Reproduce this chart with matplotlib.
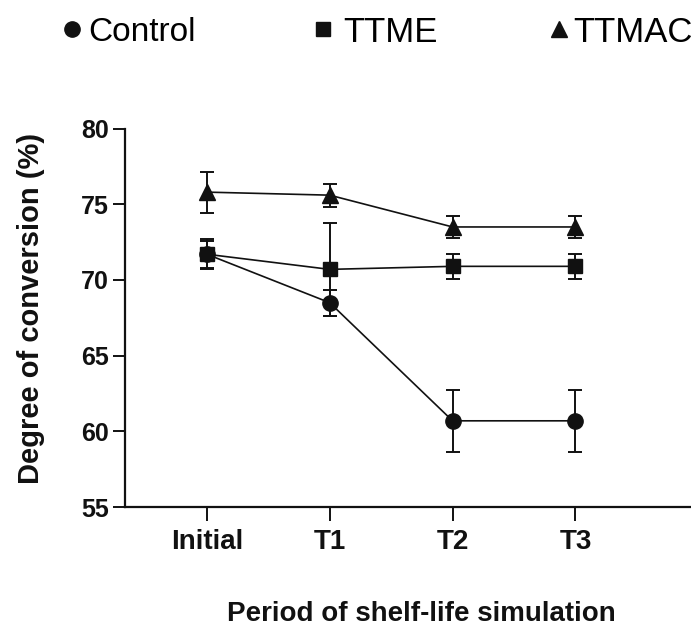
import matplotlib
matplotlib.use("Agg")
import matplotlib.pyplot as plt
from matplotlib.lines import Line2D

periods = ["Initial", "T1", "T2", "T3"]

control = [71.7, 68.5, 60.7, 60.7]
control_err = [0.9, 0.85, 2.05, 2.05]

ttme = [71.7, 70.7, 70.9, 70.9]
ttme_err = [1.0, 3.05, 0.83, 0.83]

ttmac = [75.8, 75.6, 73.5, 73.5]
ttmac_err = [1.35, 0.75, 0.75, 0.75]

INK = "#111111"

plt.rcParams["font.family"] = ["Liberation Sans", "DejaVu Sans"]

fig = plt.figure(figsize=(6.91, 6.30), dpi=100)
ax = fig.add_axes([0.181, 0.195, 0.819, 0.601])

x = list(range(len(periods)))
series = [
    ("Control", control, control_err, "o", 11),
    ("TTME", ttme, ttme_err, "s", 10),
    ("TTMAC", ttmac, ttmac_err, "^", 11),
]
for name, vals, errs, mk, ms in series:
    ax.errorbar(x, vals, yerr=errs, color=INK, marker=mk, markersize=ms,
                linewidth=1.2, elinewidth=1.4, capsize=5, capthick=1.4,
                label=name)

ax.set_xlim(-0.665, 3.94)
ax.set_ylim(55, 80)
ax.set_yticks([55, 60, 65, 70, 75, 80])
ax.set_xticks(x)
ax.set_xticklabels(periods)

for side in ("top", "right"):
    ax.spines[side].set_visible(False)
for side in ("left", "bottom"):
    ax.spines[side].set_linewidth(1.6)
    ax.spines[side].set_color(INK)

ax.tick_params(axis="y", length=8.5, width=1.4, colors=INK, labelsize=18, pad=3)
ax.tick_params(axis="x", length=10, width=1.4, colors=INK, labelsize=20, pad=6)
for lbl in ax.get_xticklabels() + ax.get_yticklabels():
    lbl.set_fontweight("bold")

ax.set_ylabel("Degree of conversion (%)", fontsize=21, fontweight="bold", color=INK)
ax.yaxis.set_label_coords(-0.142, 0.525)
ax.set_xlabel("Period of shelf-life simulation", fontsize=20, fontweight="bold", color=INK)
ax.xaxis.set_label_coords(0.523, -0.247)

# legend row at the top, one entry per series
legend_pos = [
    ("Control", "o", 11, 0.085, 0.949, 24, 0.1),
    ("TTME", "s", 10, 0.447, 0.949, 25, 0.2),
    ("TTMAC", "^", 11, 0.789, 0.949, 25, 0.0),
]
for name, mk, ms, lx, ly, fs, pad in legend_pos:
    h = Line2D([], [], marker=mk, markersize=ms, linestyle="none", color=INK)
    fig.legend(handles=[h], labels=[name], loc="center left",
               bbox_to_anchor=(lx, ly), frameon=False, fontsize=fs,
               handlelength=0.8, handletextpad=pad, borderpad=0,
               borderaxespad=0)

fig.savefig("out.png", dpi=100)
